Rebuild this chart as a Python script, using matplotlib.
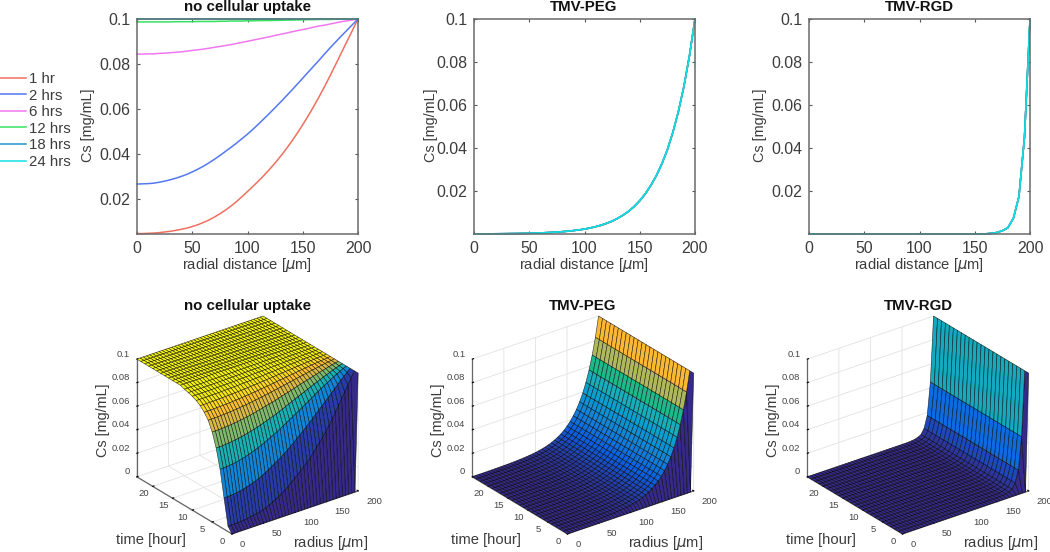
import numpy as np
import matplotlib
matplotlib.use("Agg")
import matplotlib.pyplot as plt
from matplotlib.colors import LinearSegmentedColormap

plt.rcParams['font.family'] = ['Liberation Sans', 'DejaVu Sans']
plt.rcParams['mathtext.fontset'] = 'dejavusans'

W, H = 1050, 552

radius_um = list(range(0, 205, 5))
time_hr = list(range(0, 25))
curve_labels = ["1 hr", "2 hrs", "6 hrs", "12 hrs", "18 hrs", "24 hrs"]
curve_hours = [1, 2, 6, 12, 18, 24]
curve_colors = ["#f0705f", "#5478f0", "#f078f0", "#35e060", "#1c94c4", "#10e0e4"]

# no uptake, Cs in ug/mL per radial node
free_t0 = [0.0] * 40 + [100.0]
free_t1 = [4.6, 4.6, 4.7, 4.8, 5.0, 5.3, 5.6, 6.0, 6.5, 7.0, 7.7, 8.5, 9.5, 10.6, 11.9, 13.4, 15.0, 16.8, 18.8, 21.0, 23.3,
           25.6, 28.0, 30.5, 33.2, 36.0, 39.0, 42.2, 45.6, 49.2, 53.0, 57.0, 61.2, 65.6, 70.2, 75.0, 80.0, 85.0, 90.0, 95.0, 100.0]
free_t2 = [26.6, 26.7, 26.8, 27.0, 27.4, 27.9, 28.5, 29.2, 30.0, 30.9, 32.0, 33.2, 34.5, 36.0, 37.6, 39.3, 41.1, 42.9, 44.8, 46.8, 48.8,
           51.0, 53.3, 55.7, 58.1, 60.6, 63.1, 65.7, 68.3, 71.0, 73.7, 76.4, 79.1, 81.8, 84.6, 87.3, 89.9, 92.5, 95.0, 97.5, 100.0]
free_t3 = [49.0, 49.1, 49.2, 49.5, 49.8, 50.3, 50.9, 51.5, 52.3, 53.1, 54.1, 55.1, 56.2, 57.4, 58.7, 60.0, 61.4, 62.8, 64.4, 65.9, 67.5,
           69.2, 70.8, 72.5, 74.3, 76.0, 77.7, 79.5, 81.2, 83.0, 84.7, 86.4, 88.1, 89.7, 91.3, 92.9, 94.4, 95.9, 97.3, 98.7, 100.0]
free_t4 = [65.0, 65.0, 65.1, 65.3, 65.6, 65.9, 66.3, 66.7, 67.3, 67.8, 68.5, 69.2, 70.0, 70.8, 71.6, 72.6, 73.5, 74.5, 75.5, 76.6, 77.7,
           78.8, 80.0, 81.2, 82.3, 83.6, 84.7, 85.9, 87.1, 88.3, 89.5, 90.7, 91.8, 92.9, 94.1, 95.1, 96.2, 97.2, 98.2, 99.1, 100.0]
free_t5 = [76.5, 76.5, 76.6, 76.7, 76.9, 77.1, 77.4, 77.7, 78.0, 78.4, 78.8, 79.3, 79.8, 80.4, 81.0, 81.6, 82.2, 82.9, 83.6, 84.3, 85.0,
           85.8, 86.6, 87.4, 88.1, 89.0, 89.7, 90.6, 91.4, 92.2, 92.9, 93.7, 94.5, 95.3, 96.0, 96.7, 97.4, 98.1, 98.8, 99.4, 100.0]
free_t6 = [84.4, 84.4, 84.5, 84.5, 84.7, 84.8, 85.0, 85.2, 85.4, 85.7, 86.0, 86.3, 86.6, 87.0, 87.4, 87.8, 88.2, 88.6, 89.1, 89.6, 90.1,
           90.6, 91.1, 91.6, 92.1, 92.7, 93.2, 93.7, 94.3, 94.8, 95.3, 95.8, 96.4, 96.9, 97.3, 97.8, 98.3, 98.8, 99.2, 99.6, 100.0]
free_t7 = [89.2, 89.2, 89.2, 89.3, 89.4, 89.5, 89.6, 89.7, 89.9, 90.1, 90.3, 90.5, 90.7, 91.0, 91.2, 91.5, 91.8, 92.1, 92.5, 92.8, 93.1,
           93.5, 93.8, 94.2, 94.6, 94.9, 95.3, 95.7, 96.0, 96.4, 96.8, 97.1, 97.5, 97.8, 98.2, 98.5, 98.8, 99.1, 99.4, 99.7, 100.0]
free_t8 = [92.7, 92.7, 92.7, 92.8, 92.8, 92.9, 93.0, 93.1, 93.2, 93.3, 93.4, 93.6, 93.7, 93.9, 94.1, 94.3, 94.5, 94.7, 94.9, 95.1, 95.4,
           95.6, 95.8, 96.1, 96.3, 96.6, 96.8, 97.1, 97.3, 97.6, 97.8, 98.1, 98.3, 98.5, 98.8, 99.0, 99.2, 99.4, 99.6, 99.8, 100.0]
free_t9 = [95.1, 95.1, 95.1, 95.1, 95.2, 95.2, 95.3, 95.3, 95.4, 95.5, 95.6, 95.7, 95.8, 95.9, 96.0, 96.2, 96.3, 96.4, 96.6, 96.7, 96.9,
           97.0, 97.2, 97.4, 97.5, 97.7, 97.9, 98.0, 98.2, 98.4, 98.5, 98.7, 98.9, 99.0, 99.2, 99.3, 99.5, 99.6, 99.7, 99.9, 100.0]
free_t10 = [96.7, 96.7, 96.7, 96.7, 96.8, 96.8, 96.8, 96.9, 96.9, 97.0, 97.0, 97.1, 97.2, 97.2, 97.3, 97.4, 97.5, 97.6, 97.7, 97.8, 97.9,
            98.0, 98.1, 98.2, 98.3, 98.4, 98.6, 98.7, 98.8, 98.9, 99.0, 99.1, 99.2, 99.3, 99.4, 99.5, 99.6, 99.7, 99.8, 99.9, 100.0]
free_t11 = [97.8, 97.8, 97.8, 97.8, 97.8, 97.9, 97.9, 97.9, 97.9, 98.0, 98.0, 98.1, 98.1, 98.2, 98.2, 98.3, 98.3, 98.4, 98.5, 98.5, 98.6,
            98.7, 98.7, 98.8, 98.9, 99.0, 99.0, 99.1, 99.2, 99.3, 99.3, 99.4, 99.5, 99.6, 99.6, 99.7, 99.8, 99.8, 99.9, 99.9, 100.0]
free_t12 = [98.7, 98.7, 98.7, 98.7, 98.7, 98.7, 98.7, 98.8, 98.8, 98.8, 98.8, 98.9, 98.9, 98.9, 98.9, 99.0, 99.0, 99.1, 99.1, 99.1, 99.2,
            99.2, 99.3, 99.3, 99.3, 99.4, 99.4, 99.5, 99.5, 99.6, 99.6, 99.7, 99.7, 99.8, 99.8, 99.8, 99.9, 99.9, 99.9, 100.0, 100.0]
free_saturated = [100.0] * 41

# TMV-PEG and TMV-RGD barely change after the first hour
peg_t1 = [0.16, 0.16, 0.17, 0.18, 0.2, 0.22, 0.24, 0.28, 0.32, 0.37, 0.43, 0.5, 0.6, 0.7, 0.83, 0.98, 1.16, 1.38, 1.65, 1.95, 2.3,
          2.8, 3.4, 4.0, 4.9, 5.9, 7.3, 8.8, 10.6, 12.8, 15.4, 18.6, 22.5, 27.0, 32.5, 39.0, 47.2, 57.0, 68.7, 82.9, 100.0]
peg_steady = [0.18, 0.18, 0.19, 0.2, 0.22, 0.24, 0.27, 0.3, 0.34, 0.39, 0.45, 0.52, 0.61, 0.72, 0.85, 1.0, 1.2, 1.4, 1.7, 2.0, 2.4,
              2.9, 3.5, 4.2, 5.1, 6.1, 7.4, 8.9, 10.7, 12.9, 15.6, 18.8, 22.7, 27.2, 32.7, 39.3, 47.4, 57.1, 68.8, 83.0, 100.0]
rgd_steady = [0.1] * 30 + [0.12, 0.14, 0.2, 0.4, 0.8, 1.6, 3.0, 7.5, 17.5, 45.0, 100.0]

panel_titles = ["no cellular uptake", "TMV-PEG", "TMV-RGD"]
r_ticks = [0, 50, 100, 150, 200]
cs_ticks = [0.02, 0.04, 0.06, 0.08, 0.1]
cs_tick_labels = ["0.02", "0.04", "0.06", "0.08", "0.1"]
z_ticks = [0, 0.02, 0.04, 0.06, 0.08, 0.1]
z_tick_labels = ["0", "0.02", "0.04", "0.06", "0.08", "0.1"]
t_ticks = [0, 5, 10, 15, 20]

free_rows = [free_t0, free_t1, free_t2, free_t3, free_t4, free_t5, free_t6, free_t7,
             free_t8, free_t9, free_t10, free_t11, free_t12] + [free_saturated] * 12
peg_rows = [free_t0, peg_t1] + [peg_steady] * 23
rgd_rows = [free_t0] + [rgd_steady] * 24

parula = LinearSegmentedColormap.from_list("parula", [
    (0.00, (0.208, 0.166, 0.529)),
    (0.13, (0.040, 0.370, 0.880)),
    (0.25, (0.078, 0.504, 0.838)),
    (0.38, (0.030, 0.614, 0.810)),
    (0.48, (0.100, 0.680, 0.720)),
    (0.57, (0.110, 0.720, 0.550)),
    (0.69, (0.690, 0.720, 0.360)),
    (0.83, (0.980, 0.720, 0.200)),
    (0.90, (0.980, 0.860, 0.130)),
    (0.95, (0.960, 0.940, 0.060)),
    (1.00, (0.960, 0.960, 0.060)),
])


def px_axes(x0, y0, x1, y1, **kw):
    return fig.add_axes([x0 / W, 1 - y1 / H, (x1 - x0) / W, (y1 - y0) / H], **kw)


def px_text(x, y, s, **kw):
    kw.setdefault("ha", "center")
    kw.setdefault("va", "center")
    kw.setdefault("color", "#3c3c3c")
    fig.text(x / W, 1 - y / H, s, **kw)


fig = plt.figure(figsize=(W / 100, H / 100), dpi=100)

# --- line plots
lefts = [137, 474, 809]
lows = [0.0044, 0.0001, 0.0001]
cs_label_x = [88, 431, 760]
tables = [free_rows, peg_rows, rgd_rows]
for i in range(3):
    left = lefts[i]
    ax = px_axes(left, 19, left + 221, 234)
    rows = np.array(tables[i]) / 1000
    for h, lab, col in zip(curve_hours, curve_labels, curve_colors):
        ax.plot(radius_um, rows[h], color=col, lw=1.1, label=lab, clip_on=False)
    ax.set_xlim(0, 200)
    ax.set_ylim(lows[i], 0.1)
    ax.set_xticks(r_ticks)
    ax.set_yticks(cs_ticks)
    ax.set_yticklabels(cs_tick_labels)
    ax.tick_params(direction="in", top=True, right=True, length=2.5, width=0.8,
                   color="#555555", labelcolor="#3c3c3c", labelsize=11.4, pad=5)
    for sp in ax.spines.values():
        sp.set_color("#6a6a6a")
        sp.set_linewidth(1.1)
    px_text(left + 110, 265, r"radial distance [$\mu$m]", fontsize=10.6)
    px_text(cs_label_x[i], 125, "Cs [mg/mL]", fontsize=10.4, rotation=90)
    px_text(left + 110, 7, panel_titles[i], fontsize=10.8, fontweight="bold", color="#111111")
    if i == 0:
        handles, labels = ax.get_legend_handles_labels()
        fig.legend(handles, labels, loc="upper left", bbox_to_anchor=(0, 1 - 72 / H),
                   frameon=False, fontsize=10.8, handlelength=1.72, handletextpad=0.2,
                   labelspacing=0.17, borderpad=0, borderaxespad=0, labelcolor="#3c3c3c")

# --- surfaces
centers = [(247.5, 425), (583, 425), (918, 425)]
side = 252
for i in range(3):
    cx, cy = centers[i]
    x0 = cx - 0.5135 * side
    y1 = cy + 0.5135 * side
    ax = fig.add_axes([x0 / W, 1 - y1 / H, side / W, side / H], projection="3d", proj_type="ortho")
    ax.patch.set_alpha(0)
    ax.set_box_aspect((158, 158, 132))
    ax.view_init(elev=26.9, azim=-127)
    R, T = np.meshgrid(radius_um, time_hr)
    C = np.array(tables[i]) / 1000
    if i == 0:
        # bands follow the centre value of each hour
        levels = np.tile(C[:, :1], (1, C.shape[1]))
    else:
        levels = C
    ax.plot_surface(R, T, C, facecolors=parula(levels / 0.1), rstride=1, cstride=1,
                    shade=False, edgecolor=(0, 0, 0, 0.75), linewidth=0.42, antialiased=True)
    ax.set_xlim(0, 200, view_margin=0)
    ax.set_ylim(0, 24, view_margin=0)
    ax.set_zlim(0, 0.1, view_margin=0)
    ax.set_xticks(r_ticks)
    ax.set_yticks(t_ticks)
    ax.set_zticks(z_ticks)
    ax.set_zticklabels(z_tick_labels)
    for axis in (ax.xaxis, ax.yaxis, ax.zaxis):
        axis.set_pane_color((1, 1, 1, 1))
        axis.pane.set_edgecolor("white")
        axis.line.set_color("#666666")
        axis.line.set_linewidth(0.9)
        axis._axinfo["grid"]["color"] = "#e2e2e2"
        axis._axinfo["grid"]["linewidth"] = 0.6
        axis._axinfo["tick"]["inward_factor"] = 0.0
        axis._axinfo["tick"]["outward_factor"] = 0.12
        axis._axinfo["tick"]["color"] = "#666666"
    ax.tick_params(labelsize=6.8, labelcolor="#444444", pad=-1)
    ax.tick_params(axis="x", pad=0)
    ax.tick_params(axis="z", pad=-5)
    ax.zaxis.set_ticks_position("upper")
    fig.canvas.draw()
    for t in ax.get_xticklabels():
        t.set_ha("left")
        t.set_va("bottom")
    for t in ax.get_yticklabels():
        t.set_va("bottom")
    for t in ax.get_zticklabels():
        t.set_ha("right")
        t.set_va("bottom")
    px_text(cx - 145, 420, "Cs [mg/mL]", fontsize=10.4, rotation=90)
    px_text(cx - 97, 540, "time [hour]", fontsize=10.6)
    px_text(cx + 83, 543, r"radius [$\mu$m]", fontsize=10.6)
    px_text(cx, 306, panel_titles[i], fontsize=10.8, fontweight="bold", color="#111111")

fig.savefig("out.png", dpi=100)
